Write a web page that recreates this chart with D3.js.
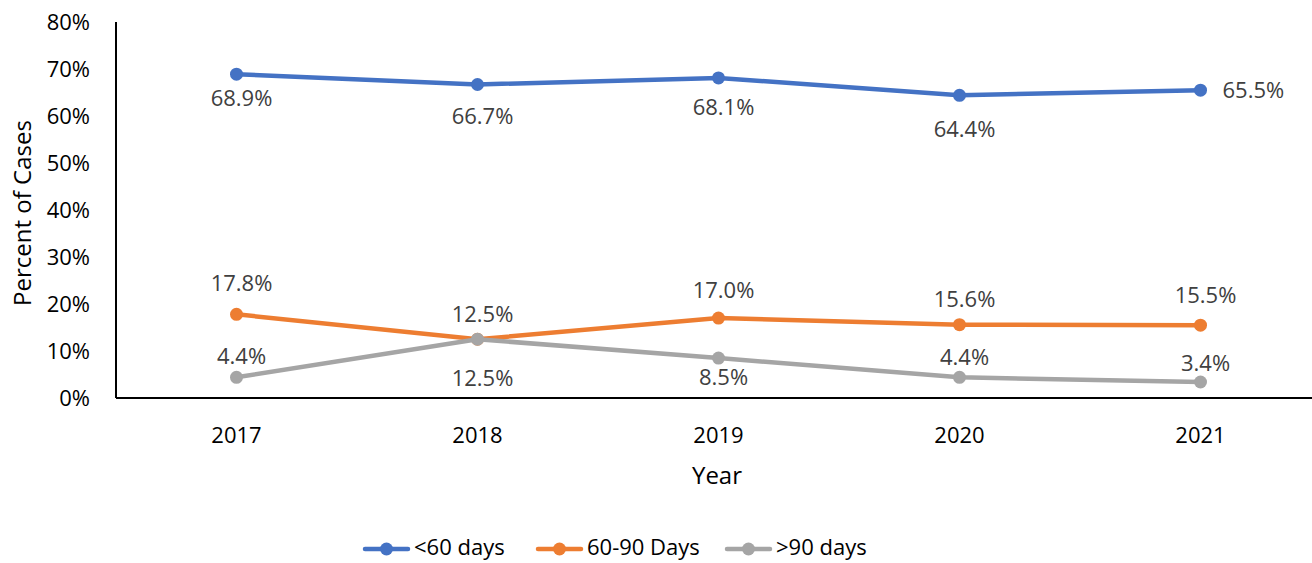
<!DOCTYPE html>
<html><head><meta charset="utf-8">
<script src="https://cdn.jsdelivr.net/npm/d3@7"></script>
<style>body{margin:0;background:#fff}svg{display:block;font-family:"Segoe UI","Open Sans",sans-serif}</style>
</head><body><svg id="c" width="1312" height="563"></svg>
<script>
const years = ["2017","2018","2019","2020","2021"];
const lt60 = [68.9, 66.7, 68.1, 64.4, 65.5];
const d60to90 = [17.8, 12.5, 17.0, 15.6, 15.5];
const gt90 = [4.4, 12.5, 8.5, 4.4, 3.4];
const yTicks = [0,10,20,30,40,50,60,70,80];
const seriesNames = ["<60 days","60-90 Days",">90 days"];
const colors = ["#4472C4","#ED7D31","#A5A5A5"];
// data-label vertical offsets (label centre relative to marker, px); "r" = to the right
const labelOff = [[24,32,29,34,"r"],[-31,-25,-28,-25,-30],[-21,39,19,-20,-19]];

(function(){
const svg = d3.select("#c");
const pL = 116, pR = 1321, pT = 22, pB = 398;
const x = d3.scaleBand().domain(years).range([pL, pR]);
const y = d3.scaleLinear().domain([0,80]).range([pB, pT]);
const fs = 22, fsT = 24;

svg.append("line").attr("x1",pL).attr("x2",pL).attr("y1",pT).attr("y2",pB).attr("stroke","#000").attr("stroke-width",2);
svg.append("line").attr("x1",pL).attr("x2",1312).attr("y1",pB).attr("y2",pB).attr("stroke","#000").attr("stroke-width",2);
svg.selectAll(".yt").data(yTicks).enter().append("text")
  .attr("x",90).attr("y",d=>y(d)).attr("dy","0.35em").attr("text-anchor","end")
  .attr("font-size",fs).attr("fill","#000").text(d=>d+"%");
svg.selectAll(".xt").data(years).enter().append("text")
  .attr("x",d=>x(d)+x.bandwidth()/2).attr("y",443).attr("text-anchor","middle")
  .attr("font-size",fs).attr("fill","#000").text(d=>d);
svg.append("text").attr("x",717).attr("y",484).attr("text-anchor","middle").attr("font-size",fsT).text("Year");
svg.append("text").attr("transform","translate(31,213) rotate(-90)").attr("text-anchor","middle").attr("font-size",fsT).text("Percent of Cases");

const data = [lt60, d60to90, gt90];
const cx = i => x(years[i]) + x.bandwidth()/2;
const line = d3.line().x((d,i)=>cx(i)).y(d=>y(d));
data.forEach((vals, s) => {
  svg.append("path").datum(vals).attr("d", line).attr("fill","none")
    .attr("stroke", colors[s]).attr("stroke-width",4.5).attr("stroke-linejoin","round");
  svg.selectAll(".m"+s).data(vals).enter().append("circle")
    .attr("cx",(d,i)=>cx(i)).attr("cy",d=>y(d)).attr("r",6.5).attr("fill",colors[s]);
});
data.forEach((vals, s) => {
  svg.selectAll(".l"+s).data(vals).enter().append("text")
    .attr("x",(d,i)=> labelOff[s][i]==="r" ? cx(i)+22 : cx(i)+5)
    .attr("y",(d,i)=> labelOff[s][i]==="r" ? y(d) : y(d)+labelOff[s][i])
    .attr("dy","0.35em")
    .attr("text-anchor",(d,i)=> labelOff[s][i]==="r" ? "start" : "middle")
    .attr("font-size",fs).attr("fill","#404040").text(d=>d.toFixed(1)+"%");
});

const legX = [363, 536, 725];
seriesNames.forEach((n,s)=>{
  const g = svg.append("g").attr("transform",`translate(${legX[s]},549)`);
  g.append("line").attr("x1",2).attr("x2",45).attr("stroke",colors[s]).attr("stroke-width",4.5).attr("stroke-linecap","round");
  g.append("circle").attr("cx",23.5).attr("r",6.5).attr("fill",colors[s]);
  g.append("text").attr("x",51).attr("y",-2).attr("dy","0.35em").attr("font-size",fs).attr("fill","#000").text(n);
});
})();
</script></body></html>
